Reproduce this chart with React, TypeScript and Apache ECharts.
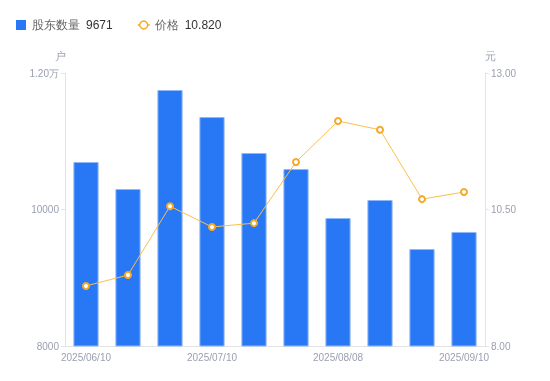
import React, { useEffect, useRef } from "react";
import * as echarts from "echarts";

const categories = [
  "2025/06/10", "2025/06/20", "2025/06/30", "2025/07/10", "2025/07/20",
  "2025/07/31", "2025/08/08", "2025/08/20", "2025/08/29", "2025/09/10",
];
const holders = [10696, 10300, 11751, 11355, 10828, 10593, 9875, 10139, 9421, 9671];
const prices = [9.1, 9.3, 10.56, 10.18, 10.25, 11.37, 12.12, 11.96, 10.69, 10.82];
const latestHolders = "9671";
const latestPrice = "10.820";

export default function App() {
  const ref = useRef<HTMLDivElement>(null);
  useEffect(() => {
    if (!ref.current) return;
    const chart = echarts.init(ref.current, null, { renderer: "svg" });
    const font = "sans-serif";
    const labelColor = "#9a9fb0";
    chart.setOption({
      animation: false,
      textStyle: { fontFamily: font },
      legend: {
        left: 11,
        top: 14,
        itemGap: 24,
        itemWidth: 12,
        itemHeight: 10,
        data: [
          {
            name: "股东数量",
            icon: "path://M0,0H10V10H0Z",
            itemStyle: { color: "#2878f5", borderWidth: 0 },
          },
          {
            name: "价格",
            itemStyle: { color: "#fff", borderColor: "#f7a928", borderWidth: 1.5 },
          },
        ],
        formatter: (name: string) =>
          name === "股东数量"
            ? `{n|${name}}{v|${latestHolders}}`
            : `{n|${name}}{v|${latestPrice}}`,
        textStyle: {
          fontFamily: font,
          rich: {
            n: { color: "#666", fontSize: 12, padding: [0, 6, 0, 0], fontFamily: font },
            v: { color: "#333", fontSize: 12, fontFamily: font },
          },
        },
      },
      grid: { left: 65, right: 65, top: 73, bottom: 35 },
      xAxis: {
        type: "category",
        data: categories,
        axisTick: { show: false },
        axisLine: { lineStyle: { color: "#e3e3e3" } },
        axisLabel: {
          color: labelColor,
          fontSize: 10,
          interval: 2,
          margin: 6,
          fontFamily: font,
        },
      },
      yAxis: [
        {
          type: "value",
          min: 8000,
          max: 12000,
          interval: 2000,
          name: "户",
          nameGap: 12,
          nameTextStyle: { color: labelColor, fontSize: 11, padding: [0, 10, 0, 0] },
          splitLine: { show: false },
          axisLine: { show: true, lineStyle: { color: "#e3e3e3" } },
          axisTick: { show: true, length: 4, lineStyle: { color: "#e3e3e3" } },
          axisLabel: {
            color: labelColor,
            fontSize: 10,
            margin: 6,
            formatter: (v: number) => (v >= 12000 ? (v / 10000).toFixed(2) + "万" : String(v)),
          },
        },
        {
          type: "value",
          min: 8,
          max: 13,
          interval: 2.5,
          name: "元",
          nameGap: 12,
          nameTextStyle: { color: labelColor, fontSize: 11, padding: [0, 0, 0, 10] },
          splitLine: { show: false },
          axisLine: { show: true, lineStyle: { color: "#e3e3e3" } },
          axisTick: { show: true, length: 4, lineStyle: { color: "#e3e3e3" } },
          axisLabel: {
            color: labelColor,
            fontSize: 10,
            margin: 6,
            formatter: (v: number) => v.toFixed(2),
          },
        },
      ],
      series: [
        {
          name: "股东数量",
          type: "bar",
          data: holders,
          barWidth: "60%",
          itemStyle: { color: "#2878f5", borderColor: "#8fb8fa", borderWidth: 1 },
        },
        {
          name: "价格",
          type: "line",
          yAxisIndex: 1,
          data: prices,
          symbol: "circle",
          symbolSize: 6,
          showSymbol: true,
          lineStyle: { color: "#fbbf4a", width: 1 },
          itemStyle: { color: "#fff", borderColor: "#f7a928", borderWidth: 2 },
        },
      ],
    });
    return () => chart.dispose();
  }, []);
  return (
    <div
      ref={ref}
      style={{ width: 550, height: 381, position: "fixed", left: 0, top: 0 }}
    />
  );
}
